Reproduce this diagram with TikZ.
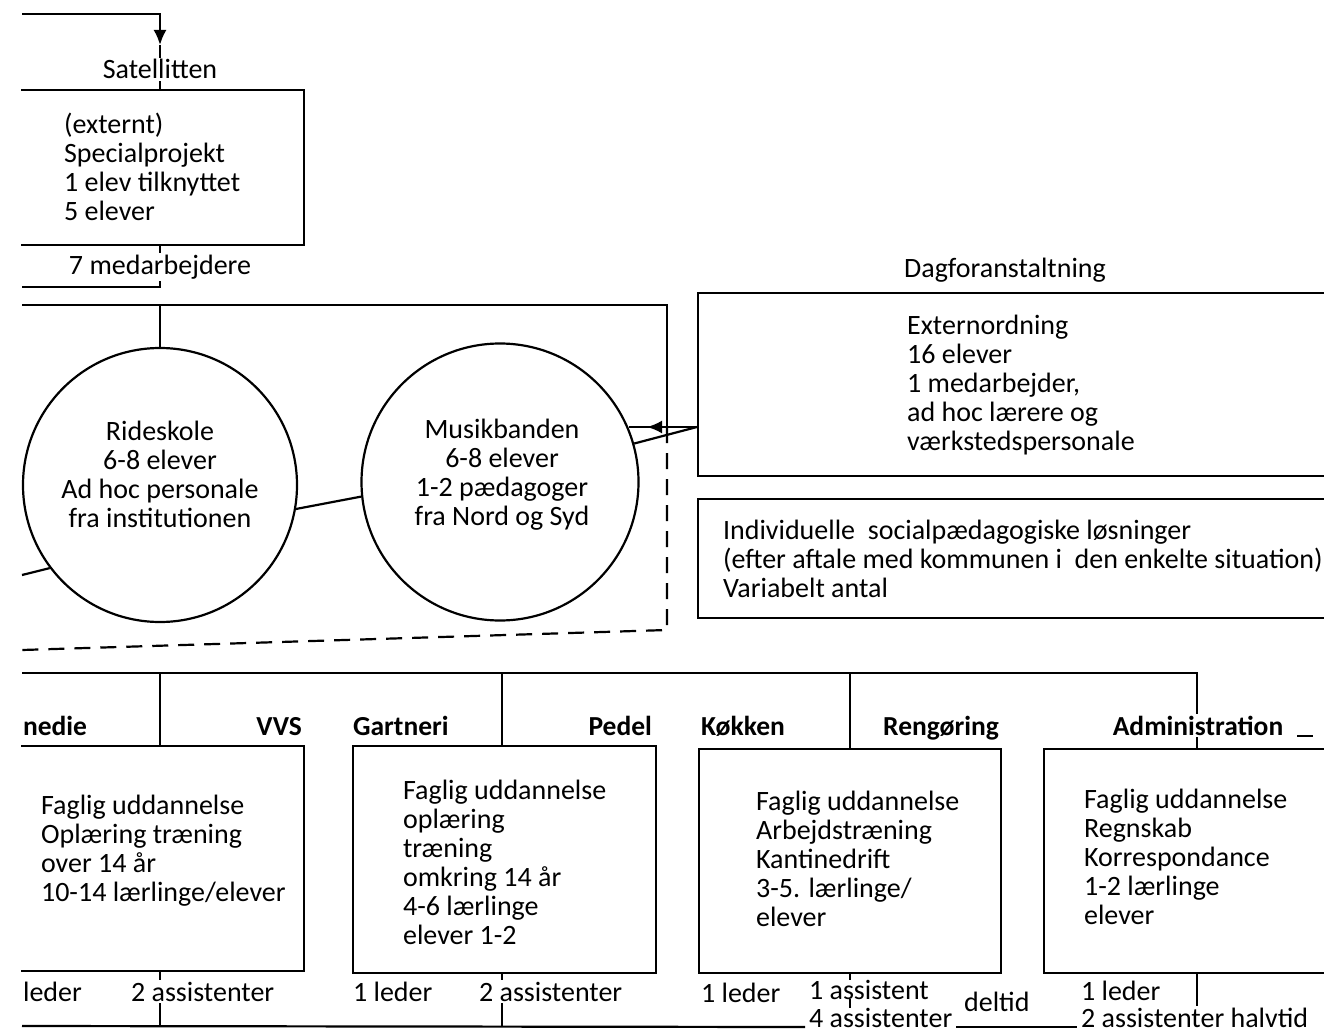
\documentclass[tikz,border=0pt]{standalone}
\usepackage{fontspec}
\setmainfont{Carlito}
\usetikzlibrary{arrows.meta,decorations.markings,backgrounds}

\begin{document}
\begin{tikzpicture}[x=1pt,y=-1pt,line width=2.2pt,
  every node/.style={font=\fontsize{28}{29}\selectfont},
  unit/.style={draw,line width=2.2pt,inner sep=0pt},
  ring/.style={draw,circle,line width=2.2pt,inner sep=0pt},
  txt/.style={align=left,anchor=west,inner sep=0pt},
  lbl/.style={fill=white,inner sep=2pt},
  head/.style={font=\fontsize{27.5}{29}\selectfont\bfseries,fill=white,inner sep=2pt},
  tip/.style={-{Latex[length=15pt,width=13pt]}},
  hole/.style={dash pattern=on 16pt off 10pt}]
\useasboundingbox (0,0) rectangle (1324,1032);
\clip (21,0) rectangle (1324,1032);

% satellitten
\node[lbl,anchor=base] (satname) at (160,79) {Satellitten};
\node[unit,anchor=north east,minimum width=330pt,minimum height=155pt] (sat) at (305,89) {};
\node[txt] (sattxt) at (63,167) {(externt)\\Specialprojekt\\1 elev tilknyttet\\5 elever};
\node[lbl,anchor=base] (staff) at (160,274) {7 medarbejdere};

% rideskole og musikbanden
\node[ring,minimum size=274pt] (ride) at (160,485) {};
\node[align=center,inner sep=0pt] (ridetxt) at (160,474) {Rideskole\\6-8 elever\\Ad hoc personale\\fra institutionen};
\node[ring,minimum size=277pt] (musik) at (500,482) {};
\node[align=center,inner sep=0pt] (musiktxt) at (502,475) {Musikbanden\\6-8 elever\\1-2 pædagoger\\fra Nord og Syd};

% dagforanstaltning
\node[lbl,anchor=base] (dagname) at (1005,277) {Dagforanstaltning};
\node[unit,anchor=north west,minimum width=700pt,minimum height=183pt] (dag) at (697,292) {};
\node[txt] (dagtxt) at (906,385) {Externordning\\16 elever\\1 medarbejder,\\ad hoc lærere og\\værkstedspersonale};
\node[unit,anchor=north west,minimum width=700pt,minimum height=119pt] (indi) at (697,498) {};
\node[txt] (inditxt) at (722,559) {Individuelle\ \ socialpædagogiske løsninger\\(efter aftale med kommunen i\ \ den enkelte situation)\\Variabelt antal};

% værksteder
\node[head,anchor=base west] (smedhead) at (20,735) {nedie};
\node[head,anchor=base east] (vvshead) at (305,735) {VVS};
\node[head,anchor=base west] (garthead) at (350,735) {Gartneri};
\node[head,anchor=base east] (pedelhead) at (655,735) {Pedel};
\node[head,anchor=base west] (kokhead) at (698,735) {Køkken};
\node[head,anchor=base east] (renghead) at (1002,735) {Rengøring};
\node[head,anchor=base] (admhead) at (1198,735) {Administration};

\node[unit,anchor=north east,minimum width=330pt,minimum height=225pt] (smed) at (305,745) {};
\node[unit,anchor=north west,minimum width=303pt,minimum height=227pt] (gart) at (352,745) {};
\node[unit,anchor=north west,minimum width=302pt,minimum height=224pt] (kok) at (698,748) {};
\node[unit,anchor=north west,minimum width=400pt,minimum height=224pt] (adm) at (1043,748) {};
\node[txt] (smedtxt) at (40,851) {Faglig uddannelse\\Oplæring træning\\over 14 år\\10-14 lærlinge/elever};
\node[txt] (garttxt) at (402,862) {Faglig uddannelse\\oplæring\\træning\\omkring 14 år\\4-6 lærlinge\\elever 1-2};
\node[txt] (koktxt) at (755,859) {Faglig uddannelse\\Arbejdstræning\\Kantinedrift\\3-5. lærlinge/\\elever};
\node[txt] (admtxt) at (1083,857) {Faglig uddannelse\\Regnskab\\Korrespondance\\1-2 lærlinge\\elever};

\node[lbl,anchor=base west] (smedlead) at (20,1001) {leder};
\node[lbl,anchor=base west] (smedhelp) at (128,1001) {2 assistenter};
\node[lbl,anchor=base west] (gartlead) at (350,1001) {1 leder};
\node[lbl,anchor=base west] (garthelp) at (476,1001) {2 assistenter};
\node[lbl,anchor=base west] (koklead) at (698,1002) {1 leder};
\node[lbl,anchor=base west,inner sep=0pt] (kokhelp) at (808,999) {1 assistent};
\node[lbl,anchor=base west] (deltid) at (961,1011) {deltid};
\node[lbl,anchor=base west,inner sep=0pt] (fire) at (808,1027) {4 assistenter};
\node[lbl,anchor=base west,inner sep=0pt] (halv) at (1080,1027) {2 assistenter halvtid};
\node[anchor=base west,inner sep=0pt] (admlead) at (1080,1000) {1 leder};

\begin{scope}[on background layer]
\begin{scope}[line width=2.2pt]
\coordinate (feed) at (22,14);
\coordinate (arrowtip) at (160,45);
\draw[tip] (feed) -| (arrowtip);
\draw (arrowtip) -- (arrowtip |- sat.north);
\coordinate (s1) at (22,287);
\draw (staff |- sat.south) -- (staff |- s1) -- (s1);
\coordinate (m0) at (22,305);
\coordinate (corner) at (667,305);
\coordinate (join) at (667,427);
\coordinate (tap) at (697,427);
\draw (m0) -- (corner) -- (join);
\draw (ride.north) -- (ride.north |- m0);
\draw[hole] (join) -- (667,630) -- (22,650);
\draw (ride.-10) -- (musik.186);
\coordinate (w1) at (22,575);
\draw (w1) -- (ride.217);
\draw[postaction={decorate},decoration={markings,mark=at position 0.74 with {\arrow{Latex[length=15pt,width=13pt]}}}]
  (tap) -- (musik.22 |- tap);
\draw (tap) -- (musik.16);

\coordinate (b0) at (22,673);
\coordinate (b4) at (1197,673);
\draw (b0) -- (b4) -- (b4 |- adm.north);
\foreach \b/\x in {smed/160,gart/502,kok/850}{
  \coordinate (t) at (\x,673);
  \draw (t) -- (t |- \b.north);
  \coordinate (u) at (\x,972);
  \draw (u |- \b.south) -- (u |- fire.base);
}
\coordinate (e0) at (22,1026);
\draw (e0) -- ([xshift=-3pt]fire.base west);
\draw ([xshift=3pt]fire.base east) -- ([xshift=-3pt]halv.base west);
\coordinate (u4) at (1197,972);
\draw (u4 |- adm.south) -- (u4 |- halv.north);
\draw (1297,736) -- (1313,736);
\end{scope}
\end{scope}
\end{tikzpicture}
\end{document}
